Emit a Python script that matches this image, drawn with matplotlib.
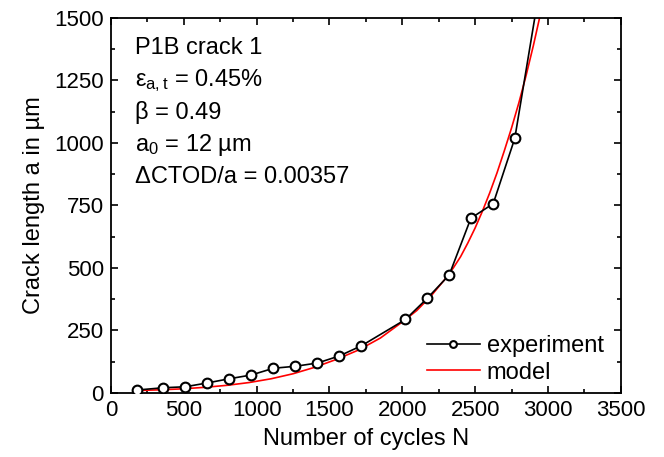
import matplotlib
matplotlib.use('Agg')
import matplotlib.pyplot as plt
from matplotlib.ticker import MultipleLocator

plt.rcParams['font.family'] = ['Liberation Sans', 'DejaVu Sans']
plt.rcParams['mathtext.fontset'] = 'custom'
plt.rcParams['mathtext.rm'] = 'Liberation Sans'
plt.rcParams['mathtext.it'] = 'Liberation Sans'

# experiment, last point lies above the axis limit
n_exp = [180, 359, 510, 659, 812, 963, 1116, 1267, 1418, 1567, 1720,
         2022, 2170, 2322, 2471, 2624, 2772, 2925]
a_exp = [12, 21, 25, 40, 57, 72, 99, 107, 120, 148, 189,
         294, 378, 472, 699, 757, 1018, 1555]

# model curve
n_mod = [180, 350, 500, 650, 800, 950, 1100, 1250, 1400, 1550, 1700, 1850,
         2000, 2100, 2200, 2250, 2300, 2350, 2400, 2450, 2500, 2550, 2600,
         2650, 2700, 2750, 2800, 2850, 2900, 2950, 3000]
a_mod = [10, 13, 17, 23, 31, 42, 57, 77, 103, 135, 172, 220,
         284, 330, 390, 425, 460, 500, 545, 600, 660, 727, 800,
         880, 968, 1060, 1160, 1270, 1390, 1520, 1660]

info = ['P1B crack 1',
        r'$\mathregular{ε_{a,t}}$ = 0.45%',
        'β = 0.49',
        r'$\mathregular{a_0}$ = 12 µm',
        'ΔCTOD/a = 0.00357']

fig = plt.figure(figsize=(6.64, 4.57), dpi=100)
ax = fig.add_axes([0.167, 0.14, 0.768, 0.821])

ax.plot(n_exp, a_exp, color='black', lw=1.2, marker='o', ms=7,
        mfc='white', mec='black', mew=1.5, label='experiment', zorder=3)
ax.plot(n_mod, a_mod, color='red', lw=1.2, label='model', zorder=2)

ax.set_xlim(0, 3500)
ax.set_ylim(0, 1500)
ax.xaxis.set_major_locator(MultipleLocator(500))
ax.xaxis.set_minor_locator(MultipleLocator(250))
ax.yaxis.set_major_locator(MultipleLocator(250))
ax.yaxis.set_minor_locator(MultipleLocator(125))
ax.tick_params(which='both', direction='in', top=True, right=True,
               labelsize=16, width=1.2, pad=5)
ax.tick_params(which='major', length=5)
ax.tick_params(which='minor', length=3)
for s in ax.spines.values():
    s.set_linewidth(1.3)

ax.set_xlabel('Number of cycles N', fontsize=17, labelpad=5)
ax.set_ylabel('Crack length a in µm', fontsize=17, labelpad=7)

y0 = 0.92
for i, t in enumerate(info):
    ax.text(0.047, y0 - i * 0.086, t, transform=ax.transAxes,
            fontsize=17, va='center', ha='left')

ax.legend(loc='lower right', frameon=False, fontsize=17, numpoints=1,
          markerscale=0.7, handlelength=2.25, handletextpad=0.3,
          labelspacing=0.2, borderaxespad=0, bbox_to_anchor=(0.985, 0.0))

fig.savefig('out.png', dpi=100)
